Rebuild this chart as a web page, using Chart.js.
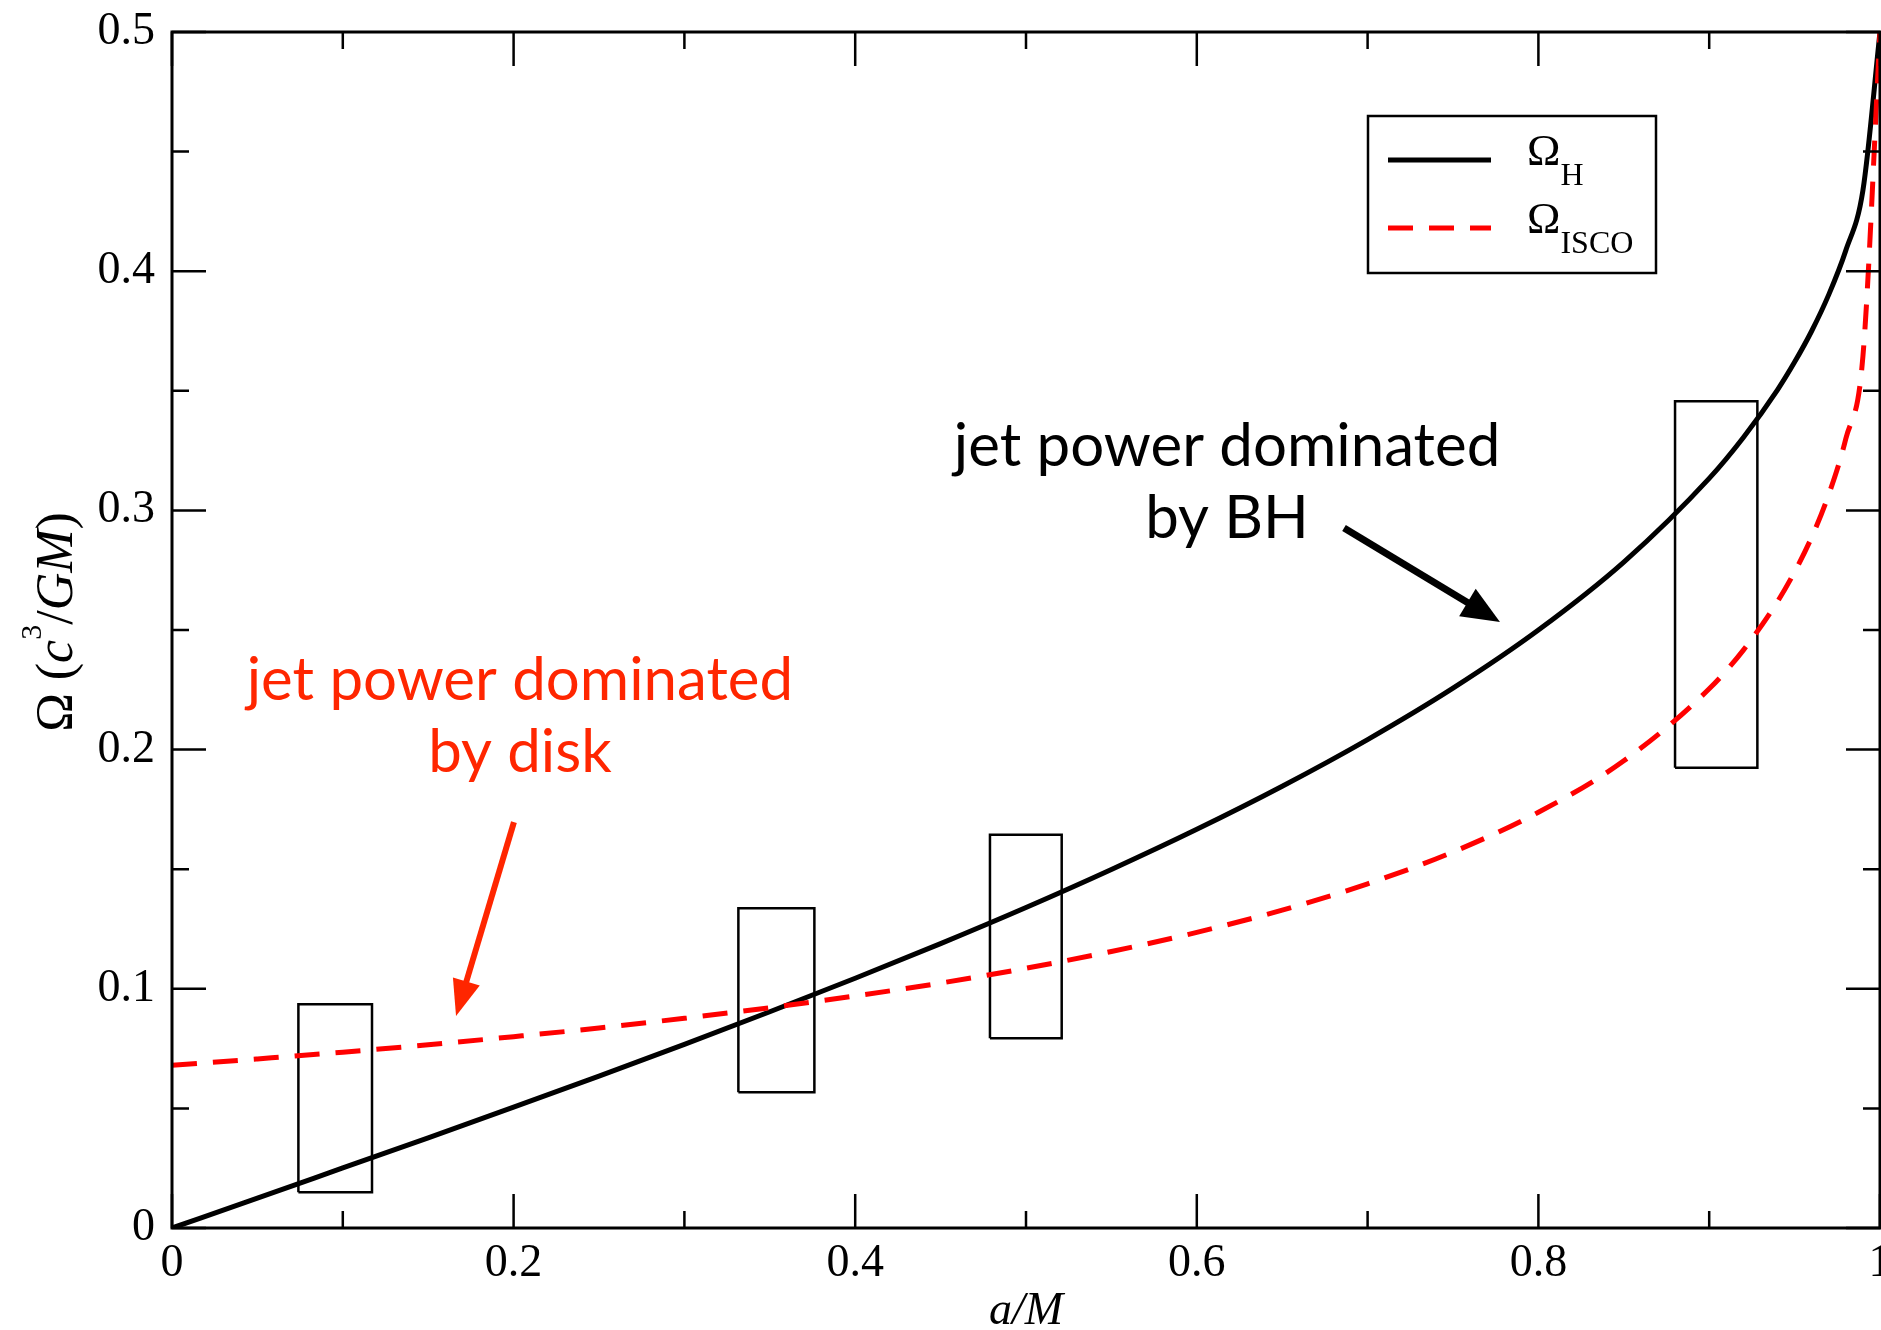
<!DOCTYPE html>
<html lang="en">
<head>
    <meta charset="UTF-8">
    <title>Omega vs a/M</title>
    <style>
        body { margin: 0; background: #fff; }
        #omegaChart { display: block; }
    </style>
    <script src="https://cdn.jsdelivr.net/npm/chart.js"></script>
</head>
<body>
<canvas id="omegaChart" width="1881" height="1330"></canvas>
<script>
    // spin values a/M (shared by both curves)
    const spin = [0, 0.05, 0.1, 0.15, 0.2, 0.25, 0.3, 0.35, 0.4, 0.45, 0.5, 0.55, 0.6, 0.65,
        0.7, 0.75, 0.8, 0.85, 0.9, 0.92, 0.94, 0.95, 0.96, 0.97, 0.98, 0.99, 1.0];
    // horizon angular frequency
    const omegaH = [0, 0.0125, 0.0251, 0.0377, 0.0505, 0.0635, 0.0768, 0.0904, 0.1044, 0.1189,
        0.1340, 0.1499, 0.1667, 0.1847, 0.2042, 0.2257, 0.2500, 0.2784, 0.3134, 0.3305,
        0.3504, 0.3620, 0.3750, 0.3902, 0.4087, 0.4338, 0.5];
    // ISCO angular frequency
    const omegaIsco = [0.0680, 0.0707, 0.0735, 0.0766, 0.0800, 0.0836, 0.0877, 0.0921, 0.0970, 0.1024,
        0.1086, 0.1156, 0.1236, 0.1329, 0.1439, 0.1572, 0.1738, 0.1953, 0.2254, 0.2416,
        0.2619, 0.2743, 0.2888, 0.3067, 0.3300, 0.3644, 0.5];

    // rectangles (a range, Omega range)
    const boxA0 = [0.074, 0.3316, 0.4789, 0.880];
    const boxA1 = [0.1171, 0.3761, 0.5209, 0.9282];
    const boxW0 = [0.0149, 0.0567, 0.0793, 0.1924];
    const boxW1 = [0.0935, 0.1337, 0.1644, 0.3456];

    const xMajor = [0, 0.2, 0.4, 0.6, 0.8, 1.0];
    const xMinor = [0.1, 0.3, 0.5, 0.7, 0.9];
    const yMajor = [0, 0.1, 0.2, 0.3, 0.4, 0.5];
    const yMinor = [0.05, 0.15, 0.25, 0.35, 0.45];

    const SERIF = "'Liberation Serif', 'Times New Roman', serif";
    const SANS = "Lato, 'Noto Sans', sans-serif";
    const ANNO_RED = '#ff2600';

    const boxSets = boxA0.map((a0, i) => ({
        label: 'box' + i,
        data: [
            {x: a0, y: boxW0[i]}, {x: boxA1[i], y: boxW0[i]}, {x: boxA1[i], y: boxW1[i]},
            {x: a0, y: boxW1[i]}, {x: a0, y: boxW0[i]}
        ],
        borderColor: '#000',
        borderWidth: 2.5,
        pointRadius: 0,
        tension: 0,
        order: 3
    }));

    function arrow(ctx, x0, y0, x1, y1, w, headLen, headW, color) {
        const ang = Math.atan2(y1 - y0, x1 - x0);
        const bx = x1 - headLen * Math.cos(ang), by = y1 - headLen * Math.sin(ang);
        ctx.strokeStyle = color;
        ctx.lineWidth = w;
        ctx.beginPath();
        ctx.moveTo(x0, y0);
        ctx.lineTo(bx + 2 * Math.cos(ang), by + 2 * Math.sin(ang));
        ctx.stroke();
        ctx.fillStyle = color;
        ctx.beginPath();
        ctx.moveTo(x1, y1);
        ctx.lineTo(bx + headW / 2 * Math.sin(ang), by - headW / 2 * Math.cos(ang));
        ctx.lineTo(bx - headW / 2 * Math.sin(ang), by + headW / 2 * Math.cos(ang));
        ctx.closePath();
        ctx.fill();
    }

    const decor = {
        id: 'decor',
        afterDatasetsDraw(chart) {
            const {ctx, chartArea: ca, scales: {x, y}} = chart;
            ctx.save();

            // frame + inward ticks on all sides
            ctx.strokeStyle = '#000';
            ctx.lineWidth = 3;
            ctx.strokeRect(ca.left, ca.top, ca.right - ca.left, ca.bottom - ca.top);
            ctx.lineWidth = 2.5;
            ctx.beginPath();
            const xt = (v, len) => {
                const p = x.getPixelForValue(v);
                ctx.moveTo(p, ca.bottom); ctx.lineTo(p, ca.bottom - len);
                ctx.moveTo(p, ca.top); ctx.lineTo(p, ca.top + len);
            };
            const yt = (v, len) => {
                const p = y.getPixelForValue(v);
                ctx.moveTo(ca.left, p); ctx.lineTo(ca.left + len, p);
                ctx.moveTo(ca.right, p); ctx.lineTo(ca.right - len, p);
            };
            xMajor.forEach(v => xt(v, 34));
            xMinor.forEach(v => xt(v, 17));
            yMajor.forEach(v => yt(v, 34));
            yMinor.forEach(v => yt(v, 17));
            ctx.stroke();

            // x title
            ctx.fillStyle = '#000';
            ctx.font = 'italic 46px ' + SERIF;
            ctx.textAlign = 'center';
            ctx.textBaseline = 'alphabetic';
            ctx.fillText('a/M', (ca.left + ca.right) / 2, 1324);

            // y title, rotated
            const parts = [
                ['Ω', '52px ' + SERIF, 0],
                [' (', '52px ' + SERIF, 0],
                ['c', 'italic 52px ' + SERIF, 0],
                ['3', '30px ' + SERIF, 31],
                ['/', '52px ' + SERIF, 0],
                ['GM', 'italic 52px ' + SERIF, 0],
                [')', '52px ' + SERIF, 0]
            ];
            let total = 0;
            parts.forEach(p => { ctx.font = p[1]; total += ctx.measureText(p[0]).width; });
            ctx.save();
            ctx.translate(72, 622);
            ctx.rotate(-Math.PI / 2);
            ctx.textAlign = 'left';
            let cx = -total / 2;
            parts.forEach(p => {
                ctx.font = p[1];
                ctx.fillText(p[0], cx, -p[2]);
                cx += ctx.measureText(p[0]).width;
            });
            ctx.restore();

            // legend
            const lx = ca.right - 512, ly = ca.top + 84;
            ctx.fillStyle = '#fff';
            ctx.fillRect(lx, ly, 288, 157);
            ctx.strokeStyle = '#000';
            ctx.lineWidth = 2.5;
            ctx.strokeRect(lx, ly, 288, 157);
            const entries = [
                {ds: chart.data.datasets[0], sub: 'H', dy: 44},
                {ds: chart.data.datasets[1], sub: 'ISCO', dy: 112}
            ];
            entries.forEach(e => {
                ctx.strokeStyle = e.ds.borderColor;
                ctx.lineWidth = e.ds.borderWidth;
                ctx.setLineDash(e.ds.borderDash || []);
                ctx.beginPath();
                ctx.moveTo(lx + 20, ly + e.dy);
                ctx.lineTo(lx + 123, ly + e.dy);
                ctx.stroke();
                ctx.setLineDash([]);
                ctx.fillStyle = '#000';
                ctx.textAlign = 'left';
                ctx.font = '45px ' + SERIF;
                ctx.fillText('Ω', lx + 159, ly + e.dy + 5);
                const w = ctx.measureText('Ω').width;
                ctx.font = '32px ' + SERIF;
                ctx.fillText(e.sub, lx + 159 + w, ly + e.dy + 25);
            });

            // annotations
            ctx.textAlign = 'center';
            ctx.font = '60px ' + SANS;
            ctx.fillStyle = '#000';
            ctx.fillText('jet power dominated', x.getPixelForValue(0.6177), y.getPixelForValue(0.3186));
            ctx.fillText('by BH', x.getPixelForValue(0.6177), y.getPixelForValue(0.2885));
            arrow(ctx, x.getPixelForValue(0.6862), y.getPixelForValue(0.2926),
                x.getPixelForValue(0.7775), y.getPixelForValue(0.2533), 7, 38, 32, '#000');

            ctx.fillStyle = ANNO_RED;
            ctx.fillText('jet power dominated', x.getPixelForValue(0.2037), y.getPixelForValue(0.2207));
            ctx.fillText('by disk', x.getPixelForValue(0.2037), y.getPixelForValue(0.1906));
            arrow(ctx, x.getPixelForValue(0.2002), y.getPixelForValue(0.1697),
                x.getPixelForValue(0.1663), y.getPixelForValue(0.0886), 6, 36, 28, ANNO_RED);

            ctx.restore();
        }
    };

    new Chart(document.getElementById('omegaChart'), {
        type: 'line',
        data: {
            datasets: [
                {
                    label: 'ΩH',
                    data: spin.map((a, i) => ({x: a, y: omegaH[i]})),
                    borderColor: '#000',
                    borderWidth: 5,
                    pointRadius: 0,
                    cubicInterpolationMode: 'monotone',
                    order: 2
                },
                {
                    label: 'ΩISCO',
                    data: spin.map((a, i) => ({x: a, y: omegaIsco[i]})),
                    borderColor: '#ff0000',
                    borderWidth: 5,
                    borderDash: [25, 16],
                    pointRadius: 0,
                    cubicInterpolationMode: 'monotone',
                    order: 1
                },
                ...boxSets
            ]
        },
        options: {
            responsive: false,
            animation: false,
            devicePixelRatio: 1,
            layout: {padding: {top: 32, right: 1, left: 0, bottom: 0}},
            plugins: {legend: {display: false}, tooltip: {enabled: false}},
            scales: {
                x: {
                    type: 'linear',
                    min: 0,
                    max: 1,
                    grid: {display: false, drawTicks: false},
                    border: {display: false},
                    ticks: {
                        stepSize: 0.2,
                        padding: 8,
                        maxRotation: 0,
                        color: '#000',
                        font: {family: SERIF, size: 46},
                        callback: v => String(+v.toFixed(1))
                    },
                    afterFit(s) { s.height = 102; s.paddingLeft = 0; s.paddingRight = 0; }
                },
                y: {
                    min: 0,
                    max: 0.5,
                    grid: {display: false, drawTicks: false},
                    border: {display: false},
                    ticks: {
                        stepSize: 0.1,
                        padding: 17,
                        color: '#000',
                        font: {family: SERIF, size: 46},
                        callback: v => String(+v.toFixed(1))
                    },
                    afterFit(s) { s.width = 172; s.paddingTop = 0; s.paddingBottom = 0; }
                }
            }
        },
        plugins: [decor]
    });
</script>
</body>
</html>
